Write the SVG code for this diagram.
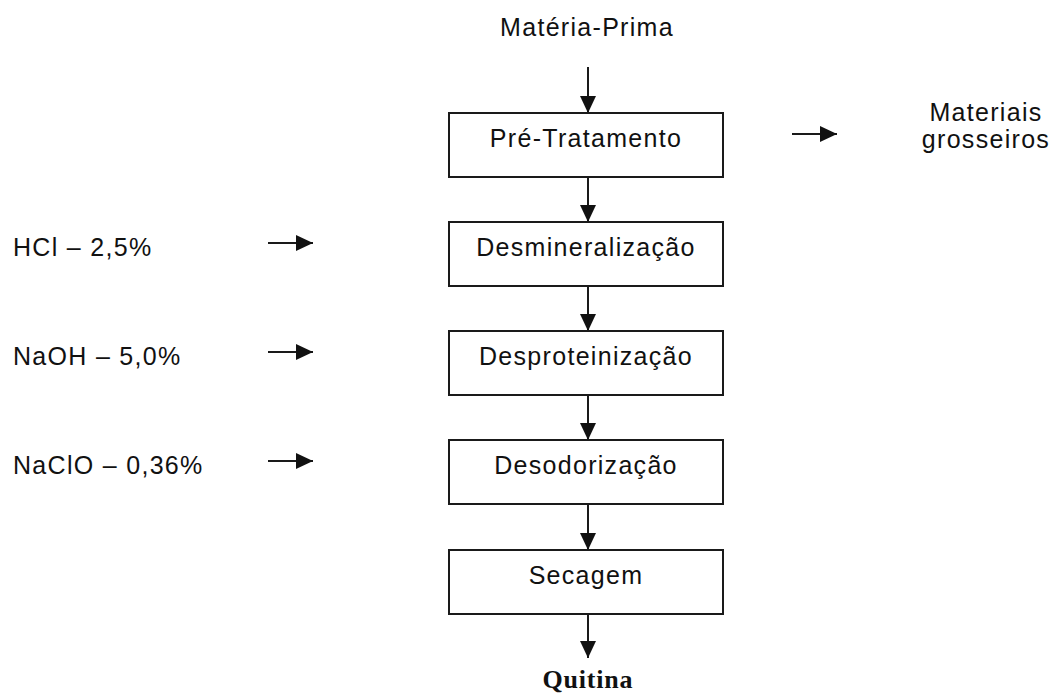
<svg xmlns="http://www.w3.org/2000/svg" width="1052" height="695" viewBox="0 0 1052 695">
  <style>
    .box { fill: #ffffff; stroke: #1a1a1a; stroke-width: 2; }
    .lbl { font-family: "Liberation Sans", Arial, sans-serif; font-size: 25px; letter-spacing: 1.3px; fill: #111111; }
    .mid { text-anchor: middle; }
    .conn { stroke: #1a1a1a; stroke-width: 2; fill: none; marker-end: url(#arrow); }
    .bold { font-family: "Liberation Serif", "Times New Roman", serif; font-size: 26px; font-weight: bold; letter-spacing: 0.8px; fill: #111111; text-anchor: middle; }
  </style>
  <defs>
    <marker id="arrow" markerUnits="userSpaceOnUse" markerWidth="20" markerHeight="20" refX="17" refY="10" orient="auto">
      <path d="M0,2 L17,10 L0,18 Z" fill="#111111"/>
    </marker>
  </defs>
  <rect width="1052" height="695" fill="#ffffff"/>

  <g id="connectors">
    <line class="conn" x1="588" y1="67" x2="588" y2="113"/>
    <line class="conn" x1="588" y1="177" x2="588" y2="222"/>
    <line class="conn" x1="588" y1="286" x2="588" y2="331"/>
    <line class="conn" x1="588" y1="395" x2="588" y2="440"/>
    <line class="conn" x1="588" y1="504" x2="588" y2="550"/>
    <line class="conn" x1="588" y1="614" x2="588" y2="658"/>
    <line class="conn" x1="792" y1="134" x2="837" y2="134"/>
    <line class="conn" x1="268" y1="243" x2="313" y2="243"/>
    <line class="conn" x1="268" y1="352" x2="313" y2="352"/>
    <line class="conn" x1="268" y1="461" x2="313" y2="461"/>
  </g>

  <g id="materia-prima">
    <text class="lbl mid" x="587" y="36">Matéria-Prima</text>
  </g>
  <g id="pre-tratamento">
    <rect class="box" x="449" y="113" width="274" height="64"/>
    <text class="lbl mid" x="586" y="147">Pré-Tratamento</text>
  </g>
  <g id="materiais-grosseiros">
    <text class="lbl mid" x="986" y="121">Materiais</text>
    <text class="lbl mid" x="986" y="148">grosseiros</text>
  </g>
  <g id="desmineralizacao">
    <rect class="box" x="449" y="222" width="274" height="64"/>
    <text class="lbl mid" x="586" y="256">Desmineralização</text>
  </g>
  <g id="hcl">
    <text class="lbl" x="13" y="256">HCl – 2,5%</text>
  </g>
  <g id="desproteinizacao">
    <rect class="box" x="449" y="331" width="274" height="64"/>
    <text class="lbl mid" x="586" y="365">Desproteinização</text>
  </g>
  <g id="naoh">
    <text class="lbl" x="13" y="365">NaOH – 5,0%</text>
  </g>
  <g id="desodorizacao">
    <rect class="box" x="449" y="440" width="274" height="64"/>
    <text class="lbl mid" x="586" y="474">Desodorização</text>
  </g>
  <g id="naclo">
    <text class="lbl" x="13" y="474">NaClO – 0,36%</text>
  </g>
  <g id="secagem">
    <rect class="box" x="449" y="550" width="274" height="64"/>
    <text class="lbl mid" x="586" y="584">Secagem</text>
  </g>
  <g id="quitina">
    <text class="bold" x="588" y="688">Quitina</text>
  </g>
</svg>
